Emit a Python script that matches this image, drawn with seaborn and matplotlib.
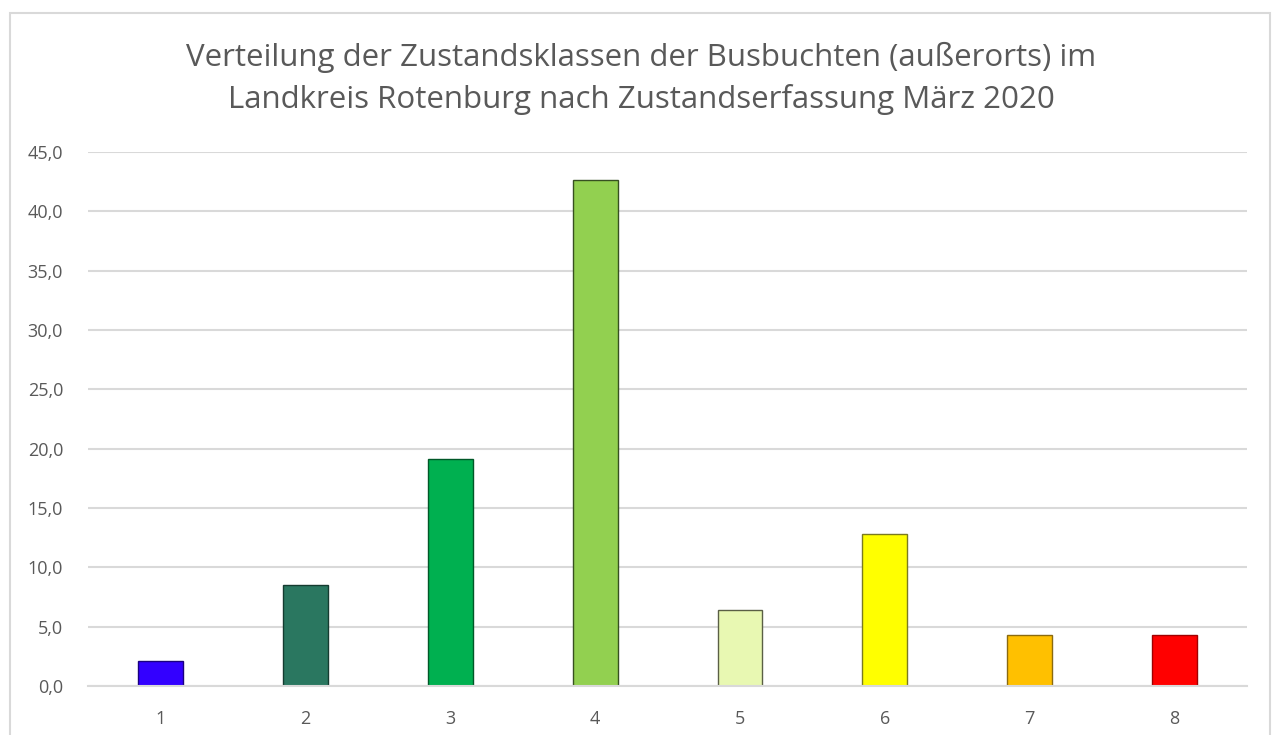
import matplotlib.pyplot as plt
import matplotlib.patches as patches
from matplotlib.ticker import FuncFormatter
import pandas as pd
import seaborn as sns

klassen = ["1", "2", "3", "4", "5", "6", "7", "8"]
anteile = [2.1, 8.5, 19.1, 42.6, 6.4, 12.8, 4.3, 4.3]
farben = ["#3300FF", "#2A7760", "#00B050", "#92D050", "#E8F8B2", "#FFFF00", "#FFC000", "#FF0000"]
kanten = ["#1A0080", "#153B30", "#005828", "#375021", "#5A5F45", "#7A7A20", "#8A6A10", "#A00000"]
titel = "Verteilung der Zustandsklassen der Busbuchten (außerorts) im\nLandkreis Rotenburg nach Zustandserfassung März 2020"

sns.set_style("white")
plt.rcParams['font.family'] = ['Open Sans', 'DejaVu Sans']

df = pd.DataFrame({"Klasse": klassen, "Anteil": anteile})

fig = plt.figure(figsize=(12.83, 7.35), dpi=100)
ax = fig.add_axes([0.0686, 0.0667, 0.9034, 0.7266])

sns.barplot(data=df, x="Klasse", y="Anteil", hue="Klasse", palette=farben,
            legend=False, width=0.31, ax=ax, linewidth=1, saturation=1)
for bar, kante in zip(ax.patches, kanten):
    bar.set_edgecolor(kante)

ax.set_ylim(0, 45)
ax.set_xlim(-0.5, 7.5)
ax.set_yticks(range(0, 50, 5))
ax.yaxis.set_major_formatter(FuncFormatter(lambda v, p: f"{v:.1f}".replace(".", ",")))
ax.grid(axis='y', color='#d9d9d9', linewidth=1.5)
ax.set_axisbelow(True)
for s in ['top', 'right', 'left']:
    ax.spines[s].set_visible(False)
ax.spines['bottom'].set_color('#d9d9d9')
ax.spines['bottom'].set_linewidth(1.5)
ax.tick_params(axis='both', length=0, labelsize=13, labelcolor='#595959')
ax.tick_params(axis='x', pad=17)
ax.tick_params(axis='y', pad=18)
ax.set_xlabel('')
ax.set_ylabel('')

fig.text(0.5, 0.893, titel, ha='center', va='center', fontsize=22.5,
         color='#595959', linespacing=1.45)

rahmen = patches.Rectangle((10 / 1283, -0.01), 1260 / 1283, 1 - 13 / 735 + 0.01,
                           transform=fig.transFigure, fill=False,
                           edgecolor='#d9d9d9', linewidth=1.5)
fig.patches.append(rahmen)

fig.savefig("out.png", dpi=100)
